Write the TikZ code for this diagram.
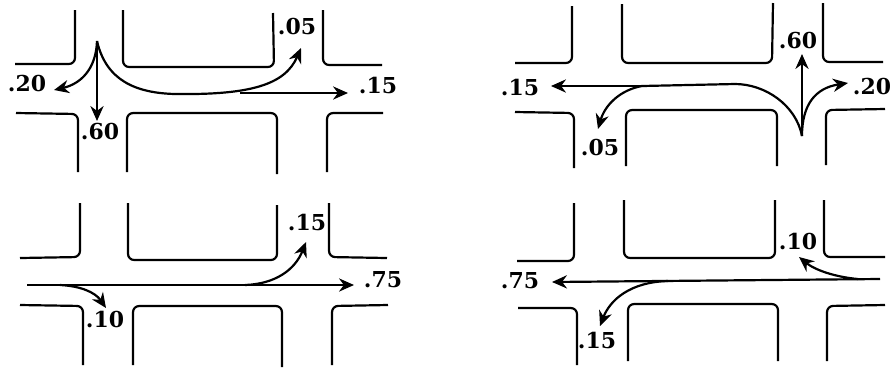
\documentclass[tikz,border=0pt]{standalone}
\usepackage{fontspec}
\setmainfont{DejaVu Serif}
\usetikzlibrary{arrows.meta}
\tikzset{
  road/.style={line width=1.25pt,rounded corners=3.5pt},
  flow/.style={line width=1.25pt,-{Stealth[length=8.5pt,width=7.5pt]}},
  share/.style={inner sep=0pt,font=\fontsize{12.5}{14}\selectfont\bfseries}
}
\begin{document}
\begin{tikzpicture}[x=0.02cm,y=-0.02cm]
  \useasboundingbox (0,0) rectangle (890,370);
  % upper left crossing
  \draw[road] (15,64) -- (75,64) -- (75,10);
  \draw[road] (123,10) -- (123,67) -- (274,67) -- (273,13);
  \draw[road] (323,10) -- (323,65) -- (382,65);
  \draw[road] (16,113) -- (78,114) -- (78,172);
  \draw[road] (127,172) -- (127,113) -- (277,113) -- (277,174);
  \draw[road] (327,172) -- (327,113) -- (383,113);
  \coordinate (s1) at (97,41);
  \coordinate (b1) at (240,93);
  \node[share] (l1w) at (27,83) {.20};
  \node[share] (l1s) at (100,131) {.60};
  \node[share] (l1n) at (297,26) {.05};
  \node[share] (l1e) at (378,85) {.15};
  \coordinate (t1w) at (54,90);
  \coordinate (t1s) at (97,121);
  \coordinate (t1n) at (301,48);
  \coordinate (t1e) at (348,93);
  \draw[flow] (s1) .. controls (96,70) and (80,84) .. (t1w);
  \draw[flow] (s1) -- (t1s);
  \draw[flow] (s1) .. controls (106,80) and (135,93) .. (175,94) .. controls (250,95) and (285,85) .. (t1n);
  \draw[flow] (b1) -- (t1e);
  % upper right crossing
  \draw[road] (515,63) -- (572,63) -- (572,6);
  \draw[road] (622,4) -- (622,63) -- (772,63) -- (773,3);
  \draw[road] (823,3) -- (823,62) -- (883,62);
  \draw[road] (515,112) -- (574,113) -- (574,168);
  \draw[road] (626,166) -- (626,110) -- (777,110) -- (777,166);
  \draw[road] (826,165) -- (826,110) -- (885,109);
  \coordinate (s2) at (802,136);
  \coordinate (b2) at (642,86);
  \node[share] (l2w) at (520,87) {.15};
  \node[share] (l2s) at (600,147) {.05};
  \node[share] (l2n) at (798,40) {.60};
  \node[share] (l2e) at (872,86) {.20};
  \coordinate (t2w) at (551,86);
  \coordinate (t2s) at (598,129);
  \coordinate (t2n) at (802,54);
  \coordinate (t2e) at (848,83);
  \draw[flow] (s2) .. controls (802,105) and (815,88) .. (t2e);
  \draw[flow] (s2) -- (t2n);
  \draw[line width=1.25pt] (s2) .. controls (796,105) and (765,84) .. (735,84) -- (b2);
  \draw[flow] (b2) -- (t2w);
  \draw[flow] (b2) .. controls (620,90) and (605,105) .. (t2s);
  % lower left crossing
  \draw[road] (20,258) -- (80,257) -- (80,203);
  \draw[road] (128,203) -- (128,260) -- (277,260) -- (277,205);
  \draw[road] (329,203) -- (329,257) -- (387,258);
  \draw[road] (20,305) -- (83,306) -- (83,365);
  \draw[road] (133,365) -- (133,306) -- (282,306) -- (282,367);
  \draw[road] (332,365) -- (332,306) -- (388,305);
  \coordinate (s3) at (27,285);
  \coordinate (b3) at (60,285);
  \coordinate (c3) at (245,285);
  \node[share] (l3n) at (307,222) {.15};
  \node[share] (l3e) at (383,280) {.75};
  \node[share] (l3s) at (105,319) {.10};
  \coordinate (t3n) at (306,242);
  \coordinate (t3e) at (354,285);
  \coordinate (t3s) at (106,308);
  \draw[flow] (s3) -- (t3e);
  \draw[flow] (b3) .. controls (80,286) and (95,292) .. (t3s);
  \draw[flow] (c3) .. controls (275,284) and (295,270) .. (t3n);
  % lower right crossing
  \draw[road] (517,261) -- (574,261) -- (574,203);
  \draw[road] (624,200) -- (624,258) -- (775,258) -- (775,200);
  \draw[road] (824,200) -- (824,257) -- (885,257);
  \draw[road] (518,308) -- (577,308) -- (577,365);
  \draw[road] (628,361) -- (628,304) -- (778,304) -- (778,361);
  \draw[road] (827,361) -- (827,306) -- (885,305);
  \coordinate (s4) at (880,279);
  \coordinate (b4) at (858,279);
  \coordinate (c4) at (668,281);
  \node[share] (l4w) at (520,281) {.75};
  \node[share] (l4s) at (597,340) {.15};
  \node[share] (l4n) at (798,241) {.10};
  \coordinate (t4w) at (552,282);
  \coordinate (t4s) at (600,326);
  \coordinate (t4n) at (799,257);
  \draw[flow] (s4) -- (t4w);
  \draw[flow] (b4) .. controls (835,277) and (815,270) .. (t4n);
  \draw[flow] (c4) .. controls (630,282) and (610,300) .. (t4s);
\end{tikzpicture}
\end{document}
